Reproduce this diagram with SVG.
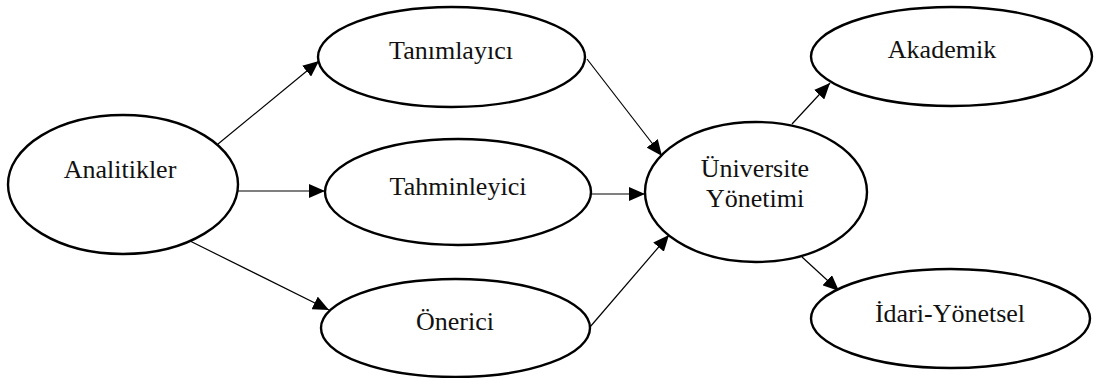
<svg xmlns="http://www.w3.org/2000/svg" width="1094" height="378" viewBox="0 0 1094 378">
  <style>
    .node ellipse { fill: #ffffff; stroke: #000000; stroke-width: 2.4; }
    .node text { font-family: "Liberation Serif", "Times New Roman", serif; font-size: 26px; fill: #111111; text-anchor: middle; }
    .edge { stroke: #000000; stroke-width: 1.2; fill: none; marker-end: url(#arrow); }
  </style>
  <defs>
    <marker id="arrow" markerUnits="userSpaceOnUse" markerWidth="16" markerHeight="14" viewBox="0 0 16 14" refX="16" refY="7" orient="auto">
      <path d="M0,0 L16,7 L0,14 Z" fill="#000000"/>
    </marker>
  </defs>
  <rect width="1094" height="378" fill="#ffffff"/>

  <g id="connectors">
    <line class="edge" x1="218" y1="144" x2="319" y2="61"/>
    <line class="edge" x1="238" y1="191" x2="325" y2="191"/>
    <line class="edge" x1="190" y1="241" x2="329" y2="310"/>
    <line class="edge" x1="587" y1="59" x2="662" y2="156"/>
    <line class="edge" x1="591" y1="194" x2="645" y2="194"/>
    <line class="edge" x1="590" y1="327" x2="669" y2="235"/>
    <line class="edge" x1="792" y1="124" x2="830" y2="83"/>
    <line class="edge" x1="802" y1="257" x2="839" y2="291"/>
  </g>

  <g id="analitikler" class="node">
    <ellipse cx="123" cy="184.5" rx="115" ry="69.5"/>
    <text x="120" y="178">Analitikler</text>
  </g>
  <g id="tanimlayici" class="node">
    <ellipse cx="451.5" cy="57" rx="133.5" ry="50"/>
    <text x="451" y="59">Tanımlayıcı</text>
  </g>
  <g id="tahminleyici" class="node">
    <ellipse cx="458" cy="192" rx="133" ry="53"/>
    <text x="458" y="195">Tahminleyici</text>
  </g>
  <g id="onerici" class="node">
    <ellipse cx="455.5" cy="328" rx="134.5" ry="49"/>
    <text x="455" y="330">Önerici</text>
  </g>
  <g id="universite-yonetimi" class="node">
    <ellipse cx="756" cy="192" rx="111" ry="70"/>
    <text x="755" y="177">Üniversite</text>
    <text x="755" y="207">Yönetimi</text>
  </g>
  <g id="akademik" class="node">
    <ellipse cx="951.5" cy="56.5" rx="140.5" ry="49.5"/>
    <text x="942" y="58">Akademik</text>
  </g>
  <g id="idari-yonetsel" class="node">
    <ellipse cx="950.5" cy="318.5" rx="139.5" ry="49.5"/>
    <text x="950" y="322">İdari-Yönetsel</text>
  </g>
</svg>
